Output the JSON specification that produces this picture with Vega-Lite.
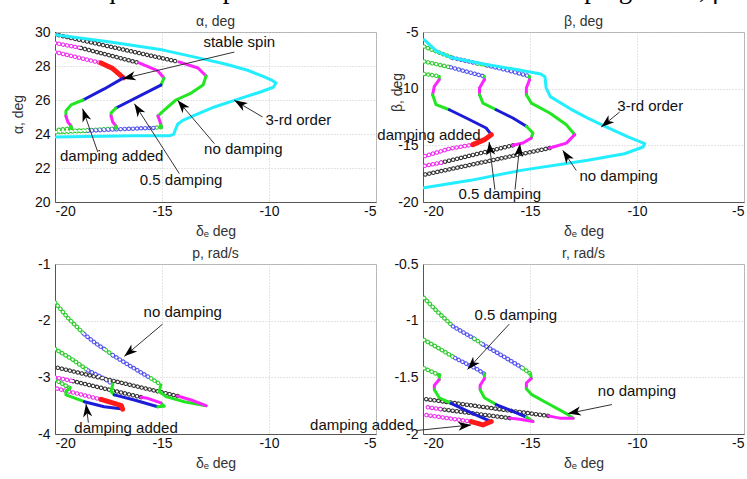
{
  "$schema": "https://vega.github.io/schema/vega-lite/v6.json",
  "title": {"text": "Comparison of equilibrium parameters with and without damping terms, β=0", "font": "Liberation Serif", "fontSize": 27, "fontWeight": "normal", "color": "#000", "anchor": "middle", "frame": "bounds", "dx": -39, "offset": 11},
  "padding": {"left": -78, "top": -25, "right": 0, "bottom": 0},
  "autosize": {"type": "pad"},
  "config": {
    "font": "Liberation Sans",
    "view": {"stroke": "#b0b0b0"},
    "axis": {"grid": true, "gridColor": "#c8c8c8", "gridDash": [1, 2], "ticks": false, "domainColor": "#555", "labelFont": "Liberation Sans", "labelFontSize": 14, "labelColor": "#111", "titleFont": "Liberation Sans", "titleFontSize": 14, "titleFontWeight": "normal", "titleColor": "#333"},
    "title": {"font": "Liberation Sans", "fontSize": 14, "fontWeight": "normal", "color": "#333", "offset": -4, "frame": "group"}
  },
  "datasets": {
    "curves": [
      {"p":"a","s":"a01","o":0,"x":-20,"y":29.84,"k":"c-"},
      {"p":"a","s":"a01","o":1,"x":-17.5,"y":29.42,"k":"c-"},
      {"p":"a","s":"a01","o":2,"x":-15,"y":28.95,"k":"c-"},
      {"p":"a","s":"a01","o":3,"x":-13.2,"y":28.45,"k":"c-"},
      {"p":"a","s":"a01","o":4,"x":-12,"y":28.1,"k":"c-"},
      {"p":"a","s":"a01","o":5,"x":-11,"y":27.75,"k":"c-"},
      {"p":"a","s":"a01","o":6,"x":-10.3,"y":27.4,"k":"c-"},
      {"p":"a","s":"a01","o":7,"x":-9.85,"y":27.15,"k":"c-"},
      {"p":"a","s":"a01","o":8,"x":-9.67,"y":27.0,"k":"c-"},
      {"p":"a","s":"a01","o":9,"x":-9.8,"y":26.75,"k":"c-"},
      {"p":"a","s":"a01","o":10,"x":-10.4,"y":26.47,"k":"c-"},
      {"p":"a","s":"a01","o":11,"x":-11.62,"y":25.98,"k":"c-"},
      {"p":"a","s":"a01","o":12,"x":-12.55,"y":25.59,"k":"c-"},
      {"p":"a","s":"a01","o":13,"x":-13.49,"y":25.1,"k":"c-"},
      {"p":"a","s":"a01","o":14,"x":-14.03,"y":24.8,"k":"c-"},
      {"p":"a","s":"a01","o":15,"x":-14.27,"y":24.57,"k":"c-"},
      {"p":"a","s":"a01","o":16,"x":-14.39,"y":24.2,"k":"c-"},
      {"p":"a","s":"a01","o":17,"x":-14.45,"y":23.98,"k":"c-"},
      {"p":"a","s":"a01","o":18,"x":-14.66,"y":23.9,"k":"c-"},
      {"p":"a","s":"a01","o":19,"x":-16.3,"y":23.9,"k":"c-"},
      {"p":"a","s":"a01","o":20,"x":-20,"y":23.82,"k":"c-"},
      {"p":"a","s":"a02","o":0,"x":-20,"y":29.86,"k":"ko"},
      {"p":"a","s":"a02","o":1,"x":-14.21,"y":28.24,"k":"ko"},
      {"p":"a","s":"a03","o":0,"x":-20,"y":29.35,"k":"mo"},
      {"p":"a","s":"a03","o":1,"x":-18.79,"y":29.06,"k":"mo"},
      {"p":"a","s":"a04","o":0,"x":-18.79,"y":29.06,"k":"ko"},
      {"p":"a","s":"a04","o":1,"x":-16.07,"y":28.18,"k":"ko"},
      {"p":"a","s":"a05","o":0,"x":-20,"y":28.82,"k":"mo"},
      {"p":"a","s":"a05","o":1,"x":-17.85,"y":28.18,"k":"mo"},
      {"p":"a","s":"a06","o":0,"x":-17.85,"y":28.18,"k":"r-"},
      {"p":"a","s":"a06","o":1,"x":-17.3,"y":27.85,"k":"r-"},
      {"p":"a","s":"a06","o":2,"x":-16.8,"y":27.3,"k":"r-"},
      {"p":"a","s":"a07","o":0,"x":-16.8,"y":27.3,"k":"b-"},
      {"p":"a","s":"a07","o":1,"x":-17.7,"y":26.65,"k":"b-"},
      {"p":"a","s":"a07","o":2,"x":-18.69,"y":26.0,"k":"b-"},
      {"p":"a","s":"a08","o":0,"x":-18.69,"y":26.0,"k":"g-"},
      {"p":"a","s":"a08","o":1,"x":-19.25,"y":25.71,"k":"g-"},
      {"p":"a","s":"a08","o":2,"x":-19.49,"y":25.35,"k":"g-"},
      {"p":"a","s":"a08","o":3,"x":-19.49,"y":25.06,"k":"g-"},
      {"p":"a","s":"a09","o":0,"x":-19.49,"y":25.06,"k":"m-"},
      {"p":"a","s":"a09","o":1,"x":-19.4,"y":24.7,"k":"m-"},
      {"p":"a","s":"a09","o":2,"x":-19.25,"y":24.47,"k":"m-"},
      {"p":"a","s":"a10","o":0,"x":-19.25,"y":24.47,"k":"g-"},
      {"p":"a","s":"a10","o":1,"x":-19.25,"y":24.33,"k":"g-"},
      {"p":"a","s":"a11","o":0,"x":-19.25,"y":24.33,"k":"go"},
      {"p":"a","s":"a11","o":1,"x":-20,"y":24.22,"k":"go"},
      {"p":"a","s":"a12","o":0,"x":-16.07,"y":28.18,"k":"m-"},
      {"p":"a","s":"a12","o":1,"x":-15.19,"y":27.71,"k":"m-"},
      {"p":"a","s":"a12","o":2,"x":-14.91,"y":27.29,"k":"m-"},
      {"p":"a","s":"a13","o":0,"x":-14.91,"y":27.29,"k":"g-"},
      {"p":"a","s":"a13","o":1,"x":-15.05,"y":26.88,"k":"g-"},
      {"p":"a","s":"a14","o":0,"x":-15.05,"y":26.88,"k":"b-"},
      {"p":"a","s":"a14","o":1,"x":-17.15,"y":25.53,"k":"b-"},
      {"p":"a","s":"a15","o":0,"x":-17.15,"y":25.53,"k":"g-"},
      {"p":"a","s":"a15","o":1,"x":-17.38,"y":25.24,"k":"g-"},
      {"p":"a","s":"a15","o":2,"x":-17.38,"y":25.06,"k":"g-"},
      {"p":"a","s":"a16","o":0,"x":-17.38,"y":25.06,"k":"m-"},
      {"p":"a","s":"a16","o":1,"x":-17.3,"y":24.7,"k":"m-"},
      {"p":"a","s":"a16","o":2,"x":-17.15,"y":24.47,"k":"m-"},
      {"p":"a","s":"a17","o":0,"x":-17.15,"y":24.47,"k":"g-"},
      {"p":"a","s":"a17","o":1,"x":-17.15,"y":24.33,"k":"g-"},
      {"p":"a","s":"a18","o":0,"x":-17.15,"y":24.33,"k":"go"},
      {"p":"a","s":"a18","o":1,"x":-18.5,"y":24.22,"k":"go"},
      {"p":"a","s":"a18","o":2,"x":-20,"y":24.15,"k":"go"},
      {"p":"a","s":"a19","o":0,"x":-14.21,"y":28.24,"k":"m-"},
      {"p":"a","s":"a19","o":1,"x":-13.32,"y":27.88,"k":"m-"},
      {"p":"a","s":"a19","o":2,"x":-12.94,"y":27.41,"k":"m-"},
      {"p":"a","s":"a20","o":0,"x":-12.94,"y":27.41,"k":"g-"},
      {"p":"a","s":"a20","o":1,"x":-13.08,"y":26.88,"k":"g-"},
      {"p":"a","s":"a20","o":2,"x":-13.64,"y":26.41,"k":"g-"},
      {"p":"a","s":"a20","o":3,"x":-14.35,"y":26.0,"k":"g-"},
      {"p":"a","s":"a20","o":4,"x":-14.95,"y":25.35,"k":"g-"},
      {"p":"a","s":"a20","o":5,"x":-15.19,"y":25.06,"k":"g-"},
      {"p":"a","s":"a21","o":0,"x":-15.19,"y":25.06,"k":"m-"},
      {"p":"a","s":"a21","o":1,"x":-15.1,"y":24.75,"k":"m-"},
      {"p":"a","s":"a21","o":2,"x":-15.05,"y":24.53,"k":"m-"},
      {"p":"a","s":"a22","o":0,"x":-15.05,"y":24.53,"k":"g-"},
      {"p":"a","s":"a22","o":1,"x":-15.05,"y":24.4,"k":"g-"},
      {"p":"a","s":"a23","o":0,"x":-15.05,"y":24.4,"k":"go"},
      {"p":"a","s":"a23","o":1,"x":-15.4,"y":24.36,"k":"go"},
      {"p":"a","s":"a24","o":0,"x":-15.4,"y":24.36,"k":"bo"},
      {"p":"a","s":"a24","o":1,"x":-17.0,"y":24.28,"k":"bo"},
      {"p":"a","s":"a24","o":2,"x":-18.6,"y":24.18,"k":"bo"},
      {"p":"a","s":"a25","o":0,"x":-18.6,"y":24.18,"k":"go"},
      {"p":"a","s":"a25","o":1,"x":-20,"y":24.1,"k":"go"},

      {"p":"b","s":"b01","o":0,"x":-19.95,"y":-5.68,"k":"c-"},
      {"p":"b","s":"b01","o":1,"x":-19.35,"y":-6.7,"k":"c-"},
      {"p":"b","s":"b01","o":2,"x":-18.7,"y":-7.25,"k":"c-"},
      {"p":"b","s":"b01","o":3,"x":-17.1,"y":-7.85,"k":"c-"},
      {"p":"b","s":"b01","o":4,"x":-15.5,"y":-8.35,"k":"c-"},
      {"p":"b","s":"b01","o":5,"x":-14.5,"y":-8.7,"k":"c-"},
      {"p":"b","s":"b01","o":6,"x":-14.3,"y":-8.95,"k":"c-"},
      {"p":"b","s":"b01","o":7,"x":-14.25,"y":-9.9,"k":"c-"},
      {"p":"b","s":"b01","o":8,"x":-14.05,"y":-10.7,"k":"c-"},
      {"p":"b","s":"b01","o":9,"x":-13.1,"y":-11.8,"k":"c-"},
      {"p":"b","s":"b01","o":10,"x":-12.3,"y":-12.6,"k":"c-"},
      {"p":"b","s":"b01","o":11,"x":-11.52,"y":-13.3,"k":"c-"},
      {"p":"b","s":"b01","o":12,"x":-10.42,"y":-14.26,"k":"c-"},
      {"p":"b","s":"b01","o":13,"x":-9.64,"y":-14.85,"k":"c-"},
      {"p":"b","s":"b01","o":14,"x":-9.72,"y":-15.15,"k":"c-"},
      {"p":"b","s":"b01","o":15,"x":-10.58,"y":-15.74,"k":"c-"},
      {"p":"b","s":"b01","o":16,"x":-12.3,"y":-16.32,"k":"c-"},
      {"p":"b","s":"b01","o":17,"x":-15.42,"y":-17.21,"k":"c-"},
      {"p":"b","s":"b01","o":18,"x":-17.77,"y":-18.09,"k":"c-"},
      {"p":"b","s":"b01","o":19,"x":-19.95,"y":-18.74,"k":"c-"},
      {"p":"b","s":"b02","o":0,"x":-19.95,"y":-6.28,"k":"go"},
      {"p":"b","s":"b02","o":1,"x":-19.2,"y":-6.85,"k":"go"},
      {"p":"b","s":"b02","o":2,"x":-18.6,"y":-7.29,"k":"go"},
      {"p":"b","s":"b03","o":0,"x":-18.6,"y":-7.29,"k":"bo"},
      {"p":"b","s":"b03","o":1,"x":-17.45,"y":-7.78,"k":"bo"},
      {"p":"b","s":"b04","o":0,"x":-17.45,"y":-7.78,"k":"go"},
      {"p":"b","s":"b04","o":1,"x":-17.0,"y":-7.95,"k":"go"},
      {"p":"b","s":"b05","o":0,"x":-17.0,"y":-7.95,"k":"bo"},
      {"p":"b","s":"b05","o":1,"x":-16.0,"y":-8.4,"k":"bo"},
      {"p":"b","s":"b05","o":2,"x":-15.03,"y":-8.9,"k":"bo"},
      {"p":"b","s":"b06","o":0,"x":-19.95,"y":-7.6,"k":"go"},
      {"p":"b","s":"b06","o":1,"x":-18.7,"y":-8.12,"k":"go"},
      {"p":"b","s":"b07","o":0,"x":-18.7,"y":-8.12,"k":"bo"},
      {"p":"b","s":"b07","o":1,"x":-17.15,"y":-8.91,"k":"bo"},
      {"p":"b","s":"b08","o":0,"x":-19.95,"y":-8.7,"k":"go"},
      {"p":"b","s":"b08","o":1,"x":-19.24,"y":-8.9,"k":"go"},
      {"p":"b","s":"b09","o":0,"x":-19.24,"y":-8.9,"k":"g-"},
      {"p":"b","s":"b09","o":1,"x":-19.24,"y":-9.2,"k":"g-"},
      {"p":"b","s":"b10","o":0,"x":-19.24,"y":-9.2,"k":"m-"},
      {"p":"b","s":"b10","o":1,"x":-19.47,"y":-9.79,"k":"m-"},
      {"p":"b","s":"b10","o":2,"x":-19.55,"y":-10.53,"k":"m-"},
      {"p":"b","s":"b11","o":0,"x":-19.55,"y":-10.53,"k":"g-"},
      {"p":"b","s":"b11","o":1,"x":-19.39,"y":-11.41,"k":"g-"},
      {"p":"b","s":"b11","o":2,"x":-18.77,"y":-11.86,"k":"g-"},
      {"p":"b","s":"b12","o":0,"x":-18.77,"y":-11.86,"k":"b-"},
      {"p":"b","s":"b12","o":1,"x":-17.98,"y":-12.59,"k":"b-"},
      {"p":"b","s":"b12","o":2,"x":-17.05,"y":-13.47,"k":"b-"},
      {"p":"b","s":"b12","o":3,"x":-16.81,"y":-14.06,"k":"b-"},
      {"p":"b","s":"b13","o":0,"x":-16.81,"y":-14.06,"k":"r-"},
      {"p":"b","s":"b13","o":1,"x":-17.13,"y":-14.5,"k":"r-"},
      {"p":"b","s":"b13","o":2,"x":-17.67,"y":-14.94,"k":"r-"},
      {"p":"b","s":"b14","o":0,"x":-17.67,"y":-14.94,"k":"mo"},
      {"p":"b","s":"b14","o":1,"x":-18.77,"y":-15.3,"k":"mo"},
      {"p":"b","s":"b14","o":2,"x":-19.95,"y":-15.97,"k":"mo"},
      {"p":"b","s":"b15","o":0,"x":-17.13,"y":-8.91,"k":"g-"},
      {"p":"b","s":"b15","o":1,"x":-17.13,"y":-9.2,"k":"g-"},
      {"p":"b","s":"b16","o":0,"x":-17.13,"y":-9.2,"k":"m-"},
      {"p":"b","s":"b16","o":1,"x":-17.36,"y":-9.94,"k":"m-"},
      {"p":"b","s":"b16","o":2,"x":-17.36,"y":-10.53,"k":"m-"},
      {"p":"b","s":"b17","o":0,"x":-17.36,"y":-10.53,"k":"g-"},
      {"p":"b","s":"b17","o":1,"x":-17.2,"y":-11.27,"k":"g-"},
      {"p":"b","s":"b17","o":2,"x":-16.58,"y":-11.86,"k":"g-"},
      {"p":"b","s":"b18","o":0,"x":-16.58,"y":-11.86,"k":"b-"},
      {"p":"b","s":"b18","o":1,"x":-15.8,"y":-12.59,"k":"b-"},
      {"p":"b","s":"b18","o":2,"x":-15.17,"y":-13.32,"k":"b-"},
      {"p":"b","s":"b19","o":0,"x":-15.17,"y":-13.32,"k":"g-"},
      {"p":"b","s":"b19","o":1,"x":-14.86,"y":-13.91,"k":"g-"},
      {"p":"b","s":"b19","o":2,"x":-14.94,"y":-14.36,"k":"g-"},
      {"p":"b","s":"b20","o":0,"x":-14.94,"y":-14.36,"k":"m-"},
      {"p":"b","s":"b20","o":1,"x":-15.33,"y":-14.8,"k":"m-"},
      {"p":"b","s":"b20","o":2,"x":-15.8,"y":-15.0,"k":"m-"},
      {"p":"b","s":"b21","o":0,"x":-15.8,"y":-15.0,"k":"ko"},
      {"p":"b","s":"b21","o":1,"x":-19.16,"y":-16.53,"k":"ko"},
      {"p":"b","s":"b22","o":0,"x":-19.16,"y":-16.53,"k":"mo"},
      {"p":"b","s":"b22","o":1,"x":-19.95,"y":-16.82,"k":"mo"},
      {"p":"b","s":"b23","o":0,"x":-15.03,"y":-8.9,"k":"g-"},
      {"p":"b","s":"b23","o":1,"x":-15.02,"y":-9.2,"k":"g-"},
      {"p":"b","s":"b24","o":0,"x":-15.02,"y":-9.2,"k":"m-"},
      {"p":"b","s":"b24","o":1,"x":-15.17,"y":-9.94,"k":"m-"},
      {"p":"b","s":"b24","o":2,"x":-15.17,"y":-10.53,"k":"m-"},
      {"p":"b","s":"b25","o":0,"x":-15.17,"y":-10.53,"k":"g-"},
      {"p":"b","s":"b25","o":1,"x":-14.94,"y":-11.27,"k":"g-"},
      {"p":"b","s":"b25","o":2,"x":-14.08,"y":-12.15,"k":"g-"},
      {"p":"b","s":"b25","o":3,"x":-13.3,"y":-13.18,"k":"g-"},
      {"p":"b","s":"b25","o":4,"x":-12.91,"y":-14.06,"k":"g-"},
      {"p":"b","s":"b26","o":0,"x":-12.91,"y":-14.06,"k":"m-"},
      {"p":"b","s":"b26","o":1,"x":-13.3,"y":-14.8,"k":"m-"},
      {"p":"b","s":"b26","o":2,"x":-14.08,"y":-15.24,"k":"m-"},
      {"p":"b","s":"b27","o":0,"x":-14.08,"y":-15.24,"k":"ko"},
      {"p":"b","s":"b27","o":1,"x":-19.94,"y":-17.59,"k":"ko"},

      {"p":"p","s":"p01","o":0,"x":-20,"y":-1.68,"k":"go"},
      {"p":"p","s":"p01","o":1,"x":-19.4,"y":-1.95,"k":"go"},
      {"p":"p","s":"p01","o":2,"x":-18.63,"y":-2.24,"k":"go"},
      {"p":"p","s":"p02","o":0,"x":-18.63,"y":-2.24,"k":"bo"},
      {"p":"p","s":"p02","o":1,"x":-18.1,"y":-2.4,"k":"bo"},
      {"p":"p","s":"p02","o":2,"x":-17.62,"y":-2.52,"k":"bo"},
      {"p":"p","s":"p03","o":0,"x":-17.62,"y":-2.52,"k":"go"},
      {"p":"p","s":"p03","o":1,"x":-17.3,"y":-2.61,"k":"go"},
      {"p":"p","s":"p04","o":0,"x":-17.3,"y":-2.61,"k":"bo"},
      {"p":"p","s":"p04","o":1,"x":-16.4,"y":-2.82,"k":"bo"},
      {"p":"p","s":"p04","o":2,"x":-15.51,"y":-3.02,"k":"bo"},
      {"p":"p","s":"p05","o":0,"x":-15.51,"y":-3.02,"k":"go"},
      {"p":"p","s":"p05","o":1,"x":-15.05,"y":-3.13,"k":"go"},
      {"p":"p","s":"p06","o":0,"x":-20,"y":-2.5,"k":"go"},
      {"p":"p","s":"p06","o":1,"x":-19.2,"y":-2.68,"k":"go"},
      {"p":"p","s":"p06","o":2,"x":-18.45,"y":-2.88,"k":"go"},
      {"p":"p","s":"p07","o":0,"x":-18.45,"y":-2.88,"k":"bo"},
      {"p":"p","s":"p07","o":1,"x":-17.8,"y":-3.0,"k":"bo"},
      {"p":"p","s":"p07","o":2,"x":-17.3,"y":-3.12,"k":"bo"},
      {"p":"p","s":"p08","o":0,"x":-20,"y":-3.04,"k":"go"},
      {"p":"p","s":"p08","o":1,"x":-19.3,"y":-3.19,"k":"go"},
      {"p":"p","s":"p09","o":0,"x":-19.3,"y":-3.19,"k":"g-"},
      {"p":"p","s":"p09","o":1,"x":-19.49,"y":-3.25,"k":"g-"},
      {"p":"p","s":"p09","o":2,"x":-19.49,"y":-3.31,"k":"g-"},
      {"p":"p","s":"p09","o":3,"x":-18.63,"y":-3.43,"k":"g-"},
      {"p":"p","s":"p10","o":0,"x":-18.63,"y":-3.43,"k":"b-"},
      {"p":"p","s":"p10","o":1,"x":-17.7,"y":-3.52,"k":"b-"},
      {"p":"p","s":"p10","o":2,"x":-16.84,"y":-3.56,"k":"b-"},
      {"p":"p","s":"p11","o":0,"x":-16.84,"y":-3.56,"k":"r-"},
      {"p":"p","s":"p11","o":1,"x":-16.9,"y":-3.5,"k":"r-"},
      {"p":"p","s":"p11","o":2,"x":-17.23,"y":-3.46,"k":"r-"},
      {"p":"p","s":"p11","o":3,"x":-17.85,"y":-3.39,"k":"r-"},
      {"p":"p","s":"p12","o":0,"x":-17.85,"y":-3.39,"k":"mo"},
      {"p":"p","s":"p12","o":1,"x":-20,"y":-3.19,"k":"mo"},
      {"p":"p","s":"p13","o":0,"x":-17.3,"y":-3.12,"k":"g-"},
      {"p":"p","s":"p13","o":1,"x":-17.38,"y":-3.25,"k":"g-"},
      {"p":"p","s":"p13","o":2,"x":-17.23,"y":-3.31,"k":"g-"},
      {"p":"p","s":"p14","o":0,"x":-17.23,"y":-3.31,"k":"b-"},
      {"p":"p","s":"p14","o":1,"x":-16.29,"y":-3.4,"k":"b-"},
      {"p":"p","s":"p14","o":2,"x":-15.2,"y":-3.52,"k":"b-"},
      {"p":"p","s":"p15","o":0,"x":-15.2,"y":-3.52,"k":"g-"},
      {"p":"p","s":"p15","o":1,"x":-14.89,"y":-3.51,"k":"g-"},
      {"p":"p","s":"p15","o":2,"x":-15.05,"y":-3.45,"k":"g-"},
      {"p":"p","s":"p16","o":0,"x":-15.05,"y":-3.45,"k":"m-"},
      {"p":"p","s":"p16","o":1,"x":-15.67,"y":-3.37,"k":"m-"},
      {"p":"p","s":"p16","o":2,"x":-15.98,"y":-3.35,"k":"m-"},
      {"p":"p","s":"p17","o":0,"x":-15.98,"y":-3.35,"k":"ko"},
      {"p":"p","s":"p17","o":1,"x":-19.25,"y":-3.06,"k":"ko"},
      {"p":"p","s":"p18","o":0,"x":-19.25,"y":-3.06,"k":"mo"},
      {"p":"p","s":"p18","o":1,"x":-20,"y":-3.0,"k":"mo"},
      {"p":"p","s":"p19","o":0,"x":-15.05,"y":-3.13,"k":"g-"},
      {"p":"p","s":"p19","o":1,"x":-15.13,"y":-3.25,"k":"g-"},
      {"p":"p","s":"p19","o":2,"x":-14.81,"y":-3.34,"k":"g-"},
      {"p":"p","s":"p19","o":3,"x":-13.96,"y":-3.43,"k":"g-"},
      {"p":"p","s":"p19","o":4,"x":-12.94,"y":-3.5,"k":"g-"},
      {"p":"p","s":"p20","o":0,"x":-12.94,"y":-3.5,"k":"m-"},
      {"p":"p","s":"p20","o":1,"x":-13.64,"y":-3.4,"k":"m-"},
      {"p":"p","s":"p20","o":2,"x":-14.27,"y":-3.33,"k":"m-"},
      {"p":"p","s":"p21","o":0,"x":-14.27,"y":-3.33,"k":"ko"},
      {"p":"p","s":"p21","o":1,"x":-20,"y":-2.82,"k":"ko"},

      {"p":"r","s":"r01","o":0,"x":-19.95,"y":-0.8,"k":"go"},
      {"p":"r","s":"r01","o":1,"x":-19.33,"y":-0.92,"k":"go"},
      {"p":"r","s":"r01","o":2,"x":-18.6,"y":-1.05,"k":"go"},
      {"p":"r","s":"r02","o":0,"x":-18.6,"y":-1.05,"k":"bo"},
      {"p":"r","s":"r02","o":1,"x":-17.6,"y":-1.16,"k":"bo"},
      {"p":"r","s":"r03","o":0,"x":-17.6,"y":-1.16,"k":"go"},
      {"p":"r","s":"r03","o":1,"x":-17.2,"y":-1.21,"k":"go"},
      {"p":"r","s":"r04","o":0,"x":-17.2,"y":-1.21,"k":"bo"},
      {"p":"r","s":"r04","o":1,"x":-16.2,"y":-1.32,"k":"bo"},
      {"p":"r","s":"r04","o":2,"x":-15.33,"y":-1.42,"k":"bo"},
      {"p":"r","s":"r05","o":0,"x":-15.33,"y":-1.42,"k":"go"},
      {"p":"r","s":"r05","o":1,"x":-14.97,"y":-1.47,"k":"go"},
      {"p":"r","s":"r06","o":0,"x":-19.95,"y":-1.17,"k":"go"},
      {"p":"r","s":"r06","o":1,"x":-19.2,"y":-1.25,"k":"go"},
      {"p":"r","s":"r06","o":2,"x":-18.5,"y":-1.33,"k":"go"},
      {"p":"r","s":"r07","o":0,"x":-18.5,"y":-1.33,"k":"bo"},
      {"p":"r","s":"r07","o":1,"x":-17.45,"y":-1.43,"k":"bo"},
      {"p":"r","s":"r07","o":2,"x":-17.13,"y":-1.47,"k":"bo"},
      {"p":"r","s":"r08","o":0,"x":-19.95,"y":-1.42,"k":"go"},
      {"p":"r","s":"r08","o":1,"x":-19.24,"y":-1.48,"k":"go"},
      {"p":"r","s":"r09","o":0,"x":-19.24,"y":-1.48,"k":"g-"},
      {"p":"r","s":"r09","o":1,"x":-19.24,"y":-1.52,"k":"g-"},
      {"p":"r","s":"r10","o":0,"x":-19.24,"y":-1.52,"k":"m-"},
      {"p":"r","s":"r10","o":1,"x":-19.47,"y":-1.57,"k":"m-"},
      {"p":"r","s":"r10","o":2,"x":-19.47,"y":-1.61,"k":"m-"},
      {"p":"r","s":"r11","o":0,"x":-19.47,"y":-1.61,"k":"g-"},
      {"p":"r","s":"r11","o":1,"x":-19.24,"y":-1.68,"k":"g-"},
      {"p":"r","s":"r11","o":2,"x":-18.69,"y":-1.73,"k":"g-"},
      {"p":"r","s":"r12","o":0,"x":-18.69,"y":-1.73,"k":"b-"},
      {"p":"r","s":"r12","o":1,"x":-17.67,"y":-1.82,"k":"b-"},
      {"p":"r","s":"r12","o":2,"x":-16.81,"y":-1.89,"k":"b-"},
      {"p":"r","s":"r13","o":0,"x":-16.81,"y":-1.89,"k":"r-"},
      {"p":"r","s":"r13","o":1,"x":-17.2,"y":-1.92,"k":"r-"},
      {"p":"r","s":"r13","o":2,"x":-17.75,"y":-1.89,"k":"r-"},
      {"p":"r","s":"r14","o":0,"x":-17.75,"y":-1.89,"k":"mo"},
      {"p":"r","s":"r14","o":1,"x":-19.95,"y":-1.83,"k":"mo"},
      {"p":"r","s":"r15","o":0,"x":-17.13,"y":-1.47,"k":"g-"},
      {"p":"r","s":"r15","o":1,"x":-17.13,"y":-1.51,"k":"g-"},
      {"p":"r","s":"r16","o":0,"x":-17.13,"y":-1.51,"k":"m-"},
      {"p":"r","s":"r16","o":1,"x":-17.33,"y":-1.57,"k":"m-"},
      {"p":"r","s":"r16","o":2,"x":-17.33,"y":-1.61,"k":"m-"},
      {"p":"r","s":"r17","o":0,"x":-17.33,"y":-1.61,"k":"g-"},
      {"p":"r","s":"r17","o":1,"x":-17.13,"y":-1.68,"k":"g-"},
      {"p":"r","s":"r17","o":2,"x":-16.58,"y":-1.74,"k":"g-"},
      {"p":"r","s":"r18","o":0,"x":-16.58,"y":-1.74,"k":"b-"},
      {"p":"r","s":"r18","o":1,"x":-15.8,"y":-1.8,"k":"b-"},
      {"p":"r","s":"r18","o":2,"x":-15.17,"y":-1.85,"k":"b-"},
      {"p":"r","s":"r19","o":0,"x":-15.17,"y":-1.85,"k":"g-"},
      {"p":"r","s":"r19","o":1,"x":-14.86,"y":-1.89,"k":"g-"},
      {"p":"r","s":"r20","o":0,"x":-14.86,"y":-1.89,"k":"m-"},
      {"p":"r","s":"r20","o":1,"x":-15.48,"y":-1.87,"k":"m-"},
      {"p":"r","s":"r20","o":2,"x":-15.95,"y":-1.86,"k":"m-"},
      {"p":"r","s":"r21","o":0,"x":-15.95,"y":-1.86,"k":"ko"},
      {"p":"r","s":"r21","o":1,"x":-19.2,"y":-1.78,"k":"ko"},
      {"p":"r","s":"r22","o":0,"x":-19.2,"y":-1.78,"k":"mo"},
      {"p":"r","s":"r22","o":1,"x":-19.95,"y":-1.76,"k":"mo"},
      {"p":"r","s":"r23","o":0,"x":-14.97,"y":-1.47,"k":"g-"},
      {"p":"r","s":"r23","o":1,"x":-14.94,"y":-1.51,"k":"g-"},
      {"p":"r","s":"r24","o":0,"x":-14.94,"y":-1.51,"k":"m-"},
      {"p":"r","s":"r24","o":1,"x":-15.17,"y":-1.55,"k":"m-"},
      {"p":"r","s":"r24","o":2,"x":-15.17,"y":-1.6,"k":"m-"},
      {"p":"r","s":"r25","o":0,"x":-15.17,"y":-1.6,"k":"g-"},
      {"p":"r","s":"r25","o":1,"x":-14.94,"y":-1.65,"k":"g-"},
      {"p":"r","s":"r25","o":2,"x":-14.08,"y":-1.74,"k":"g-"},
      {"p":"r","s":"r25","o":3,"x":-13.3,"y":-1.82,"k":"g-"},
      {"p":"r","s":"r25","o":4,"x":-12.98,"y":-1.86,"k":"g-"},
      {"p":"r","s":"r26","o":0,"x":-12.98,"y":-1.86,"k":"m-"},
      {"p":"r","s":"r26","o":1,"x":-13.61,"y":-1.86,"k":"m-"},
      {"p":"r","s":"r26","o":2,"x":-14.15,"y":-1.84,"k":"m-"},
      {"p":"r","s":"r27","o":0,"x":-14.15,"y":-1.84,"k":"ko"},
      {"p":"r","s":"r27","o":1,"x":-19.95,"y":-1.69,"k":"ko"}
    ],
    "labels": [
      {"p":"a","t":"stable spin","x":-11.39,"y":29.41},
      {"p":"a","t":"3-rd order","x":-8.63,"y":24.84},
      {"p":"a","t":"no damping","x":-11.2,"y":23.14},
      {"p":"a","t":"0.5 damping","x":-14.11,"y":21.27},
      {"p":"a","t":"damping added","x":-17.35,"y":22.69},
      {"p":"b","t":"3-rd order","x":-9.38,"y":-11.56},
      {"p":"b","t":"damping added","x":-19.72,"y":-14.12},
      {"p":"b","t":"0.5 damping","x":-16.41,"y":-19.26},
      {"p":"b","t":"no damping","x":-10.86,"y":-17.74},
      {"p":"p","t":"no damping","x":-14.03,"y":-1.84},
      {"p":"p","t":"damping added","x":-16.68,"y":-3.89},
      {"p":"r","t":"0.5 damping","x":-15.66,"y":-0.95},
      {"p":"r","t":"no damping","x":-10.0,"y":-1.62},
      {"p":"r","t":"damping added","x":-22.86,"y":-1.92}
    ],
    "arrows": [
      {"p":"a","x":-16.84,"y":27.25,"x2":-11.62,"y2":28.82},
      {"p":"a","x":-11.62,"y":25.98,"x2":-10.3,"y2":25.0},
      {"p":"a","x":-14.27,"y":25.98,"x2":-12.55,"y2":23.43},
      {"p":"a","x":-16.29,"y":25.78,"x2":-14.19,"y2":21.67},
      {"p":"a","x":-18.71,"y":25.49,"x2":-18.0,"y2":22.94},
      {"p":"b","x":-11.67,"y":-13.38,"x2":-10.81,"y2":-12.06},
      {"p":"b","x":-16.91,"y":-14.71,"x2":-16.64,"y2":-18.91},
      {"p":"b","x":-15.47,"y":-14.85,"x2":-15.7,"y2":-18.91},
      {"p":"b","x":-13.47,"y":-15.44,"x2":-12.84,"y2":-17.21},
      {"p":"p","x":-16.76,"y":-2.63,"x2":-14.97,"y2":-2.06},
      {"p":"p","x":-18.55,"y":-3.47,"x2":-18.44,"y2":-3.8},
      {"p":"r","x":-17.92,"y":-1.43,"x2":-15.97,"y2":-1.03},
      {"p":"r","x":-13.23,"y":-1.82,"x2":-11.17,"y2":-1.74},
      {"p":"r","x":-17.75,"y":-1.92,"x2":-20.33,"y2":-1.97}
    ]
  },
  "columns": 2,
  "spacing": {"row": 62, "column": 47},
  "bounds": "flush",
  "concat": [
    {
      "width": 321, "height": 170,
      "title": "α, deg",
      "encoding": {
        "x": {"field": "x", "type": "quantitative", "scale": {"domain": [-20, -5], "nice": false, "zero": false}, "axis": {"values": [-20, -15, -10, -5], "labelExpr": "datum.value + ''", "title": "δₑ deg", "labelPadding": 2, "titlePadding": 6}},
        "y": {"field": "y", "type": "quantitative", "scale": {"domain": [20, 30], "nice": false, "zero": false}, "axis": {"values": [20, 22, 24, 26, 28, 30], "labelExpr": "datum.value + ''", "title": "α, deg", "labelPadding": 5, "titleX": -37, "titleY": 82, "titleBaseline": "middle"}}
      },
      "layer": [
        {"data": {"name": "curves"}, "transform": [{"filter": "datum.p === 'a' && indexof(datum.k, 'o') === 1"}],
         "mark": {"type": "line", "clip": true, "strokeWidth": 4.5, "strokeDash": [0.1, 4], "strokeCap": "round"},
         "encoding": {"detail": {"field": "s"}, "order": {"field": "o", "type": "quantitative"},
           "color": {"field": "k", "type": "nominal", "legend": null, "scale": {"domain": ["g-","m-","b-","r-","c-","go","bo","ko","mo"], "range": ["#22e622","#ff22ff","#1c1cd8","#ff1a1a","#22eeff","#33cc33","#5555ee","#333333","#ee33ee"]}}}},
        {"data": {"name": "curves"}, "transform": [{"filter": "datum.p === 'a' && indexof(datum.k, 'o') === 1"}],
         "mark": {"type": "line", "clip": true, "color": "#fff", "strokeWidth": 2.3, "strokeDash": [0.1, 4], "strokeCap": "round"},
         "encoding": {"detail": {"field": "s"}, "order": {"field": "o", "type": "quantitative"}}},
        {"data": {"name": "curves"}, "transform": [{"filter": "datum.p === 'a' && indexof(datum.k, '-') === 1"}],
         "mark": {"type": "line", "clip": true, "strokeCap": "round", "strokeJoin": "round"},
         "encoding": {"detail": {"field": "s"}, "order": {"field": "o", "type": "quantitative"},
           "strokeWidth": {"condition": {"test": "datum.k === 'r-'", "value": 5}, "value": 3},
           "color": {"field": "k", "type": "nominal", "legend": null, "scale": {"domain": ["g-","m-","b-","r-","c-","go","bo","ko","mo"], "range": ["#22e622","#ff22ff","#1c1cd8","#ff1a1a","#22eeff","#33cc33","#5555ee","#333333","#ee33ee"]}}}},
        {"data": {"name": "arrows"}, "transform": [{"filter": "datum.p === 'a'"}],
         "mark": {"type": "rule", "color": "#333", "strokeWidth": 1},
         "encoding": {"x2": {"field": "x2"}, "y2": {"field": "y2"}}},
        {"data": {"name": "arrows"}, "transform": [{"filter": "datum.p === 'a'"}, {"calculate": "atan2((datum.x - datum.x2) * 21.4, (datum.y - datum.y2) * 17) * 180 / PI", "as": "ang"}],
         "mark": {"type": "point", "shape": "M0,0L0.7,2L0,1.45L-0.7,2Z", "filled": true, "color": "#000", "opacity": 1, "size": 170},
         "encoding": {"angle": {"field": "ang", "type": "quantitative", "scale": null}}},
        {"data": {"name": "labels"}, "transform": [{"filter": "datum.p === 'a'"}],
         "mark": {"type": "text", "fontSize": 15, "color": "#111", "align": "center", "baseline": "middle"},
         "encoding": {"text": {"field": "t"}}}
      ]
    },
    {
      "width": 321, "height": 170,
      "title": "β, deg",
      "encoding": {
        "x": {"field": "x", "type": "quantitative", "scale": {"domain": [-20, -5], "nice": false, "zero": false}, "axis": {"values": [-20, -15, -10, -5], "labelExpr": "datum.value + ''", "title": "δₑ deg", "labelPadding": 2, "titlePadding": 6}},
        "y": {"field": "y", "type": "quantitative", "scale": {"domain": [-20, -5], "nice": false, "zero": false}, "axis": {"values": [-20, -15, -10, -5], "labelExpr": "datum.value + ''", "title": "β, deg", "labelPadding": 5, "titleX": -26, "titleY": 60, "titleBaseline": "middle"}}
      },
      "layer": [
        {"data": {"name": "curves"}, "transform": [{"filter": "datum.p === 'b' && indexof(datum.k, 'o') === 1"}],
         "mark": {"type": "line", "clip": true, "strokeWidth": 4.5, "strokeDash": [0.1, 4], "strokeCap": "round"},
         "encoding": {"detail": {"field": "s"}, "order": {"field": "o", "type": "quantitative"},
           "color": {"field": "k", "type": "nominal", "legend": null, "scale": {"domain": ["g-","m-","b-","r-","c-","go","bo","ko","mo"], "range": ["#22e622","#ff22ff","#1c1cd8","#ff1a1a","#22eeff","#33cc33","#5555ee","#333333","#ee33ee"]}}}},
        {"data": {"name": "curves"}, "transform": [{"filter": "datum.p === 'b' && indexof(datum.k, 'o') === 1"}],
         "mark": {"type": "line", "clip": true, "color": "#fff", "strokeWidth": 2.3, "strokeDash": [0.1, 4], "strokeCap": "round"},
         "encoding": {"detail": {"field": "s"}, "order": {"field": "o", "type": "quantitative"}}},
        {"data": {"name": "curves"}, "transform": [{"filter": "datum.p === 'b' && indexof(datum.k, '-') === 1"}],
         "mark": {"type": "line", "clip": true, "strokeCap": "round", "strokeJoin": "round"},
         "encoding": {"detail": {"field": "s"}, "order": {"field": "o", "type": "quantitative"},
           "strokeWidth": {"condition": {"test": "datum.k === 'r-'", "value": 5}, "value": 3},
           "color": {"field": "k", "type": "nominal", "legend": null, "scale": {"domain": ["g-","m-","b-","r-","c-","go","bo","ko","mo"], "range": ["#22e622","#ff22ff","#1c1cd8","#ff1a1a","#22eeff","#33cc33","#5555ee","#333333","#ee33ee"]}}}},
        {"data": {"name": "arrows"}, "transform": [{"filter": "datum.p === 'b'"}],
         "mark": {"type": "rule", "color": "#333", "strokeWidth": 1},
         "encoding": {"x2": {"field": "x2"}, "y2": {"field": "y2"}}},
        {"data": {"name": "arrows"}, "transform": [{"filter": "datum.p === 'b'"}, {"calculate": "atan2((datum.x - datum.x2) * 21.4, (datum.y - datum.y2) * 11.33) * 180 / PI", "as": "ang"}],
         "mark": {"type": "point", "shape": "M0,0L0.7,2L0,1.45L-0.7,2Z", "filled": true, "color": "#000", "opacity": 1, "size": 170},
         "encoding": {"angle": {"field": "ang", "type": "quantitative", "scale": null}}},
        {"data": {"name": "labels"}, "transform": [{"filter": "datum.p === 'b'"}],
         "mark": {"type": "text", "fontSize": 15, "color": "#111", "align": "center", "baseline": "middle"},
         "encoding": {"text": {"field": "t"}}}
      ]
    },
    {
      "width": 321, "height": 170,
      "title": "p, rad/s",
      "encoding": {
        "x": {"field": "x", "type": "quantitative", "scale": {"domain": [-20, -5], "nice": false, "zero": false}, "axis": {"values": [-20, -15, -10, -5], "labelExpr": "datum.value + ''", "title": "δₑ deg", "labelPadding": 2, "titlePadding": 6}},
        "y": {"field": "y", "type": "quantitative", "scale": {"domain": [-4, -1], "nice": false, "zero": false}, "axis": {"values": [-4, -3, -2, -1], "labelExpr": "datum.value + ''", "title": null, "labelPadding": 5}}
      },
      "layer": [
        {"data": {"name": "curves"}, "transform": [{"filter": "datum.p === 'p' && indexof(datum.k, 'o') === 1"}],
         "mark": {"type": "line", "clip": true, "strokeWidth": 4.5, "strokeDash": [0.1, 4], "strokeCap": "round"},
         "encoding": {"detail": {"field": "s"}, "order": {"field": "o", "type": "quantitative"},
           "color": {"field": "k", "type": "nominal", "legend": null, "scale": {"domain": ["g-","m-","b-","r-","c-","go","bo","ko","mo"], "range": ["#22e622","#ff22ff","#1c1cd8","#ff1a1a","#22eeff","#33cc33","#5555ee","#333333","#ee33ee"]}}}},
        {"data": {"name": "curves"}, "transform": [{"filter": "datum.p === 'p' && indexof(datum.k, 'o') === 1"}],
         "mark": {"type": "line", "clip": true, "color": "#fff", "strokeWidth": 2.3, "strokeDash": [0.1, 4], "strokeCap": "round"},
         "encoding": {"detail": {"field": "s"}, "order": {"field": "o", "type": "quantitative"}}},
        {"data": {"name": "curves"}, "transform": [{"filter": "datum.p === 'p' && indexof(datum.k, '-') === 1"}],
         "mark": {"type": "line", "clip": true, "strokeCap": "round", "strokeJoin": "round"},
         "encoding": {"detail": {"field": "s"}, "order": {"field": "o", "type": "quantitative"},
           "strokeWidth": {"condition": {"test": "datum.k === 'r-'", "value": 5}, "value": 3},
           "color": {"field": "k", "type": "nominal", "legend": null, "scale": {"domain": ["g-","m-","b-","r-","c-","go","bo","ko","mo"], "range": ["#22e622","#ff22ff","#1c1cd8","#ff1a1a","#22eeff","#33cc33","#5555ee","#333333","#ee33ee"]}}}},
        {"data": {"name": "arrows"}, "transform": [{"filter": "datum.p === 'p'"}],
         "mark": {"type": "rule", "color": "#333", "strokeWidth": 1},
         "encoding": {"x2": {"field": "x2"}, "y2": {"field": "y2"}}},
        {"data": {"name": "arrows"}, "transform": [{"filter": "datum.p === 'p'"}, {"calculate": "atan2((datum.x - datum.x2) * 21.4, (datum.y - datum.y2) * 56.67) * 180 / PI", "as": "ang"}],
         "mark": {"type": "point", "shape": "M0,0L0.7,2L0,1.45L-0.7,2Z", "filled": true, "color": "#000", "opacity": 1, "size": 170},
         "encoding": {"angle": {"field": "ang", "type": "quantitative", "scale": null}}},
        {"data": {"name": "labels"}, "transform": [{"filter": "datum.p === 'p'"}],
         "mark": {"type": "text", "fontSize": 15, "color": "#111", "align": "center", "baseline": "middle"},
         "encoding": {"text": {"field": "t"}}}
      ]
    },
    {
      "width": 321, "height": 170,
      "title": "r, rad/s",
      "encoding": {
        "x": {"field": "x", "type": "quantitative", "scale": {"domain": [-20, -5], "nice": false, "zero": false}, "axis": {"values": [-20, -15, -10, -5], "labelExpr": "datum.value + ''", "title": "δₑ deg", "labelPadding": 2, "titlePadding": 6}},
        "y": {"field": "y", "type": "quantitative", "scale": {"domain": [-2, -0.5], "nice": false, "zero": false}, "axis": {"values": [-2, -1.5, -1, -0.5], "labelExpr": "datum.value + ''", "title": null, "labelPadding": 5}}
      },
      "layer": [
        {"data": {"name": "curves"}, "transform": [{"filter": "datum.p === 'r' && indexof(datum.k, 'o') === 1"}],
         "mark": {"type": "line", "clip": true, "strokeWidth": 4.5, "strokeDash": [0.1, 4], "strokeCap": "round"},
         "encoding": {"detail": {"field": "s"}, "order": {"field": "o", "type": "quantitative"},
           "color": {"field": "k", "type": "nominal", "legend": null, "scale": {"domain": ["g-","m-","b-","r-","c-","go","bo","ko","mo"], "range": ["#22e622","#ff22ff","#1c1cd8","#ff1a1a","#22eeff","#33cc33","#5555ee","#333333","#ee33ee"]}}}},
        {"data": {"name": "curves"}, "transform": [{"filter": "datum.p === 'r' && indexof(datum.k, 'o') === 1"}],
         "mark": {"type": "line", "clip": true, "color": "#fff", "strokeWidth": 2.3, "strokeDash": [0.1, 4], "strokeCap": "round"},
         "encoding": {"detail": {"field": "s"}, "order": {"field": "o", "type": "quantitative"}}},
        {"data": {"name": "curves"}, "transform": [{"filter": "datum.p === 'r' && indexof(datum.k, '-') === 1"}],
         "mark": {"type": "line", "clip": true, "strokeCap": "round", "strokeJoin": "round"},
         "encoding": {"detail": {"field": "s"}, "order": {"field": "o", "type": "quantitative"},
           "strokeWidth": {"condition": {"test": "datum.k === 'r-'", "value": 5}, "value": 3},
           "color": {"field": "k", "type": "nominal", "legend": null, "scale": {"domain": ["g-","m-","b-","r-","c-","go","bo","ko","mo"], "range": ["#22e622","#ff22ff","#1c1cd8","#ff1a1a","#22eeff","#33cc33","#5555ee","#333333","#ee33ee"]}}}},
        {"data": {"name": "arrows"}, "transform": [{"filter": "datum.p === 'r'"}],
         "mark": {"type": "rule", "color": "#333", "strokeWidth": 1},
         "encoding": {"x2": {"field": "x2"}, "y2": {"field": "y2"}}},
        {"data": {"name": "arrows"}, "transform": [{"filter": "datum.p === 'r'"}, {"calculate": "atan2((datum.x - datum.x2) * 21.4, (datum.y - datum.y2) * 112) * 180 / PI", "as": "ang"}],
         "mark": {"type": "point", "shape": "M0,0L0.7,2L0,1.45L-0.7,2Z", "filled": true, "color": "#000", "opacity": 1, "size": 170},
         "encoding": {"angle": {"field": "ang", "type": "quantitative", "scale": null}}},
        {"data": {"name": "labels"}, "transform": [{"filter": "datum.p === 'r'"}],
         "mark": {"type": "text", "fontSize": 15, "color": "#111", "align": "center", "baseline": "middle"},
         "encoding": {"text": {"field": "t"}}}
      ]
    }
  ]
}
